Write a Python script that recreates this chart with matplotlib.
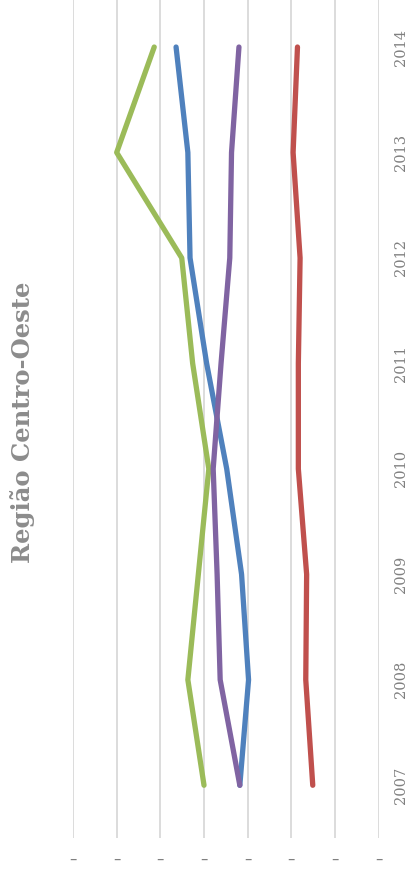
import matplotlib.pyplot as plt

# Série anual por indicador (eixo de valores com 0 à direita)
anos = [2007, 2008, 2009, 2010, 2011, 2012, 2013, 2014]
serie_azul = [3.18, 2.98, 3.14, 3.48, 3.94, 4.32, 4.37, 4.64]
serie_vermelha = [1.51, 1.67, 1.65, 1.84, 1.84, 1.80, 1.96, 1.86]
serie_verde = [4.00, 4.37, 4.13, 3.89, 4.26, 4.51, 6.00, 5.14]
serie_roxa = [3.18, 3.63, 3.70, 3.79, 3.61, 3.41, 3.37, 3.20]
ticks_valor = [0, 1, 2, 3, 4, 5, 6, 7]
rotulos_valor = ['–'] * len(ticks_valor)

W, H = 413, 872
fig = plt.figure(figsize=(W / 100, H / 100), dpi=100)
ax = fig.add_axes([73 / W, (H - 838) / H, (378.7 - 73) / W, (838 + 5.7) / H])

cores = ['#4F81BD', '#C0504D', '#9BBB59', '#8064A2']
for serie, cor in zip([serie_azul, serie_vermelha, serie_verde, serie_roxa], cores):
    ax.plot(serie, anos, color=cor, lw=3.8, solid_capstyle='round',
            solid_joinstyle='round', zorder=3)

ax.set_xlim(7, 0)
ax.set_ylim(2006.5, 2014.5)
ax.set_xticks(ticks_valor)
ax.set_yticks(anos)
ax.grid(axis='x', color='#D9D9D9', lw=1.3)
ax.grid(axis='y', visible=False)
for s in ax.spines.values():
    s.set_visible(False)
ax.tick_params(length=0)

# anos à direita, lidos de baixo para cima
ax.yaxis.tick_right()
ax.set_yticklabels([str(a) for a in anos], rotation=90, va='center',
                   family='DejaVu Serif', fontsize=10.5, color='#808080')
ax.tick_params(axis='y', pad=11)

# marcas do eixo de valores
ax.set_xticklabels(rotulos_valor, family='DejaVu Sans', fontsize=10.5,
                   color='#808080')
ax.tick_params(axis='x', pad=10)

fig.text(23 / W, 1 - 422 / H, 'Região Centro-Oeste', rotation=90,
         ha='center', va='center', family='DejaVu Serif', fontweight='bold',
         fontsize=17.5, color='#8C8C8C')

fig.savefig('out.png', dpi=100)
